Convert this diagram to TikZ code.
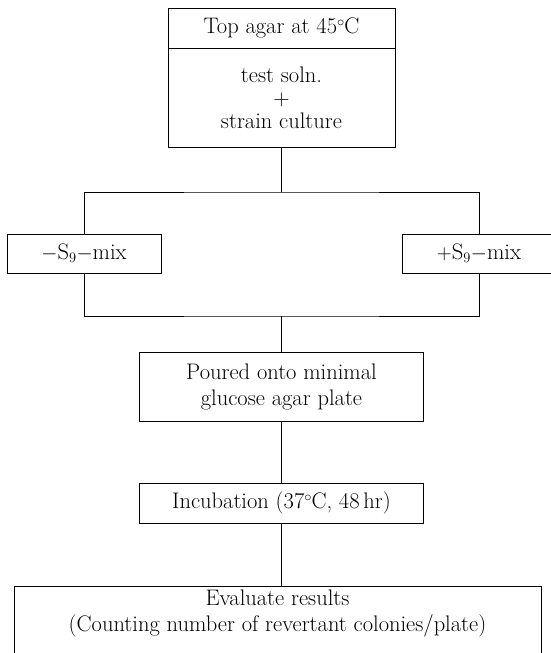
\documentclass[tikz,border=0pt]{standalone}
\usepackage{tikz}
\usetikzlibrary{positioning}
\newcommand{\degC}{$^{\circ}$\kern-0.5pt C}
\newcommand{\Snine}{S$_9$}

\begin{document}
\begin{tikzpicture}[x=1pt, y=-1pt,
        every node/.style={font=\fontsize{22.5}{26}\selectfont, align=center},
        box/.style={draw, line width=0.9pt, inner sep=0pt},
        link/.style={draw, line width=0.9pt}
    ]
        \clip (0,0) rectangle (551,653);

        % Top agar mixture
        \node[box, minimum width=227pt, minimum height=40pt] (agar) at (281.5,28) {Top agar at 45\degC};
        \node[box, minimum width=227pt, minimum height=99pt] (mix) at (281.5,97.5) {test soln.\\[-3pt]+\\[-3pt]strain culture};

        % S9 branches
        \node[box, minimum width=154pt, minimum height=39pt] (minus) at (84,253.5) {$-$\Snine$-$mix};
        \node[box, minimum width=154pt, minimum height=39pt] (plus) at (479,253.5) {$+$\Snine$-$mix};
        \coordinate (split) at (281.5,192);
        \coordinate (merge) at (281.5,316);

        % Plating and incubation
        \node[box, minimum width=284pt, minimum height=69pt] (pour) at (281.5,386.5) {Poured onto minimal\\glucose agar plate};
        \node[box, minimum width=284pt, minimum height=40pt] (incub) at (281.5,503) {Incubation (37\degC, 48\,hr)};
        \node[box, anchor=north, minimum width=527pt, inner ysep=3pt] (eval) at (277.5,586) {Evaluate results\\(Counting number of revertant colonies/plate)\\ \strut};

        \draw[link] (mix) -- (split);
        \draw[link] (minus.north) |- (split) -| (plus.north);
        \draw[link] (minus.south) |- (merge) -| (plus.south);
        \draw[link] (merge) -- (pour);
        \draw[link] (pour) -- (incub);
        \draw[link] (incub) -- (incub |- eval.north);
    \end{tikzpicture}
\end{document}
